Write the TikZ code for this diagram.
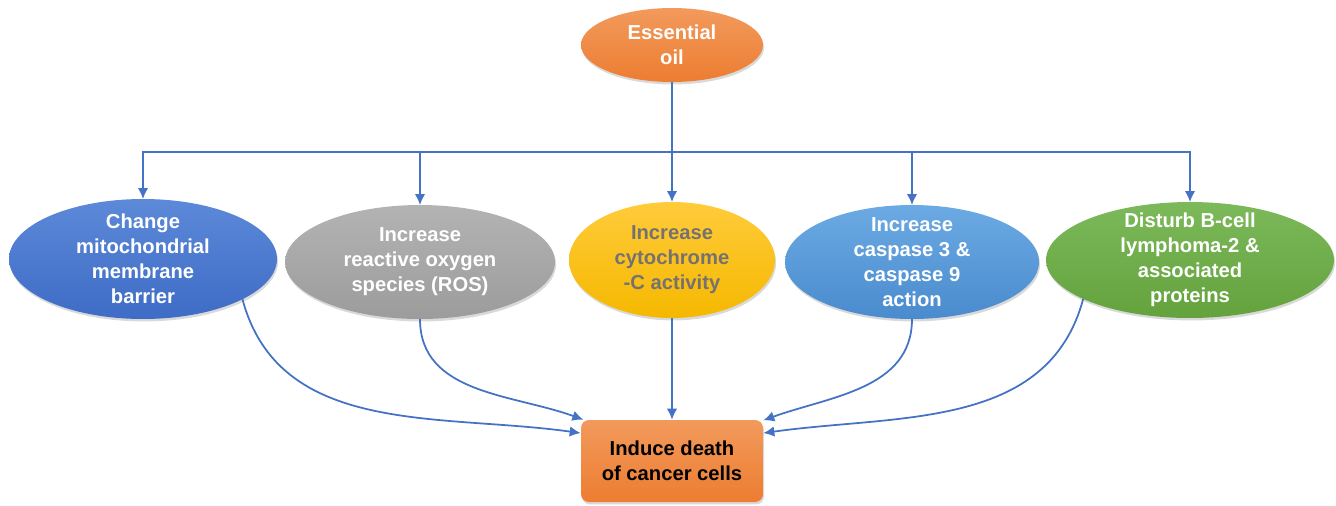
\documentclass[tikz,border=0pt]{standalone}
\usepackage{fontspec}
\setmainfont{Liberation Sans}
\usepackage{tikz}
\usetikzlibrary{arrows.meta,shapes.geometric,shadows}
\definecolor{oilorange}{HTML}{ED7D31}
\definecolor{oilorangelight}{HTML}{F29A5C}
\definecolor{oilblue}{HTML}{3E6CC6}
\definecolor{oilbluelight}{HTML}{5C89D8}
\definecolor{oilgray}{HTML}{9C9C9C}
\definecolor{oilgraylight}{HTML}{B3B3B3}
\definecolor{oilgold}{HTML}{F5B800}
\definecolor{oilgoldlight}{HTML}{FFCB3A}
\definecolor{oilsky}{HTML}{4A8BCE}
\definecolor{oilskylight}{HTML}{6BAAE3}
\definecolor{oilgreen}{HTML}{64A23D}
\definecolor{oilgreenlight}{HTML}{7CB95A}
\definecolor{oiltext}{HTML}{767171}
\definecolor{oilline}{HTML}{4472C4}

\begin{document}
\begin{tikzpicture}[x=0.02cm, y=-0.02cm,
  every node/.style={font=\fontsize{11.5}{14.2}\selectfont\bfseries, align=center},
  cause/.style={ellipse, inner sep=-8pt, outer sep=0pt, text=white,
                drop shadow={opacity=0.3, shadow xshift=0.6pt, shadow yshift=-1.4pt}},
  source/.style={cause, top color=oilorangelight, bottom color=oilorange,
                 minimum width=3.64cm, minimum height=1.48cm},
  outcome/.style={rectangle, rounded corners=4.5pt, text=black,
                  top color=oilorangelight, bottom color=oilorange,
                  minimum width=3.64cm, minimum height=1.64cm,
                  drop shadow={opacity=0.3, shadow xshift=0.6pt, shadow yshift=-1.4pt}},
  link/.style={draw=oilline, line width=1pt},
  arrow/.style={link, -{Latex[length=2.2mm, width=2.1mm]}}
]
\useasboundingbox (0,0) rectangle (1336,505);
\node[source] (oil) at (672,45) {Essential\\oil};
\node[cause, top color=oilbluelight, bottom color=oilblue,
      minimum width=5.36cm, minimum height=2.4cm] (mito) at (143,259)
  {Change\\mitochondrial\\membrane\\barrier};
\node[cause, top color=oilgraylight, bottom color=oilgray,
      minimum width=5.4cm, minimum height=2.28cm] (ros) at (420,262)
  {Increase\\reactive oxygen\\species (ROS)};
\node[cause, top color=oilgoldlight, bottom color=oilgold, text=oiltext,
      minimum width=4.12cm, minimum height=2.32cm] (cyto) at (672,260)
  {Increase\\cytochrome\\-C activity};
\node[cause, top color=oilskylight, bottom color=oilsky,
      minimum width=5.08cm, minimum height=2.28cm] (casp) at (912,262)
  {Increase\\caspase 3 \&\\caspase 9\\action};
\node[cause, top color=oilgreenlight, bottom color=oilgreen,
      minimum width=5.76cm, minimum height=2.32cm] (bcl) at (1190,260)
  {Disturb B-cell\\lymphoma-2 \&\\associated\\proteins};
\node[outcome] (death) at (672,461) {Induce death\\of cancer cells};
\coordinate (split) at (672,152);
\draw[link] (oil) -- (split);
\foreach \n in {mito,ros,cyto,casp,bcl}
  \draw[arrow] (split) -| (\n.north);
\draw[arrow] (mito.-22) to[out=-75, in=172] (death.163);
\draw[arrow] (ros.south) to[out=-90, in=160] (death.155);
\draw[arrow] (cyto.south) -- (death.north);
\draw[arrow] (casp.south) to[out=-90, in=20] (death.24);
\draw[arrow] (bcl.-160) to[out=-105, in=8] (death.17);
\end{tikzpicture}
\end{document}
